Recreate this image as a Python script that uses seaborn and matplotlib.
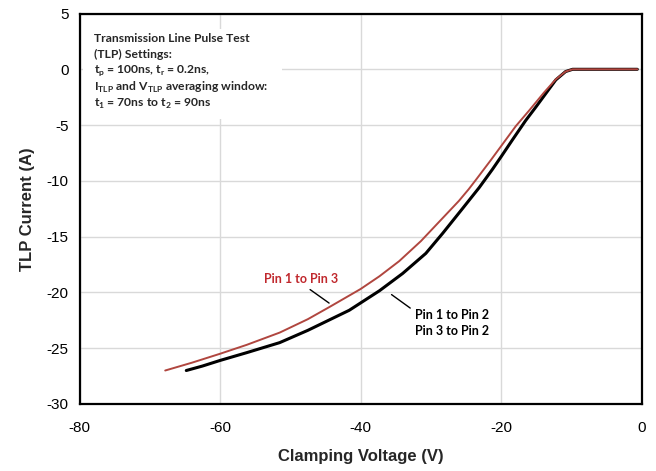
import numpy as np
import pandas as pd
import matplotlib
matplotlib.use("Agg")
import matplotlib.pyplot as plt
import seaborn as sns
from matplotlib.patches import Rectangle

# ---- data ----
red_v = [-67.8, -64.0, -60.0, -56.2, -51.5, -47.5, -44.4, -40.0, -37.3, -34.5, -31.4,
         -29.0, -26.0, -24.6, -23.5, -21.4, -20.0, -17.9, -16.0, -13.9, -12.2, -10.8,
         -9.8, -5.0, -0.6]
red_i = [-27.0, -26.3, -25.5, -24.7, -23.6, -22.4, -21.3, -19.7, -18.55, -17.2, -15.4,
         -13.8, -11.8, -10.75, -9.85, -8.1, -6.9, -5.1, -3.7, -2.1, -0.9, -0.2,
         0.0, 0.0, 0.0]
blk_v = [-64.8, -62.5, -60.0, -56.2, -51.5, -47.5, -41.6, -37.3, -34.0, -30.7, -28.3,
         -25.5, -23.1, -21.2, -20.0, -18.4, -16.5, -15.0, -13.6, -12.2, -10.8,
         -9.8, -5.0, -0.6]
blk_i = [-27.0, -26.6, -26.1, -25.4, -24.5, -23.4, -21.6, -19.85, -18.3, -16.5, -14.7,
         -12.5, -10.6, -8.95, -7.85, -6.35, -4.6, -3.35, -2.15, -0.95, -0.2,
         0.0, 0.0, 0.0]
series_names = ["Pin 1 to Pin 3", "Pin 1 to Pin 2 / Pin 3 to Pin 2"]
x_ticks = [-80, -60, -40, -20, 0]
y_ticks = [-30, -25, -20, -15, -10, -5, 0, 5]

df = pd.concat([
    pd.DataFrame({"V": red_v, "I": red_i, "series": series_names[0]}),
    pd.DataFrame({"V": blk_v, "I": blk_i, "series": series_names[1]}),
])

sns.set_theme(style="white")
plt.rcParams["font.family"] = ["Liberation Sans", "DejaVu Sans"]
plt.rcParams["axes.unicode_minus"] = False
plt.rcParams["mathtext.fontset"] = "custom"
plt.rcParams["mathtext.rm"] = "Lato:bold"

RED_LINE = "#b0463f"
RED_TEXT = "#c0282d"

fig = plt.figure(figsize=(6.56, 4.71), dpi=100)
ax = fig.add_axes([0.1212, 0.1423, 0.8567, 0.829])

sns.lineplot(data=df, x="V", y="I", hue="series", size="series",
             palette={series_names[0]: RED_LINE, series_names[1]: "black"},
             sizes={series_names[0]: 1.4, series_names[1]: 2.2},
             hue_order=[series_names[1], series_names[0]],
             sort=False, estimator=None, legend=False, ax=ax, zorder=3)

ax.set_xlim(-80, 0)
ax.set_ylim(-30, 5)
ax.set_xticks(x_ticks)
ax.set_yticks(y_ticks)
ax.grid(True, color="#d9d9d9", linewidth=1.0, zorder=0)
ax.set_axisbelow(True)
for s in ax.spines.values():
    s.set_color("black")
    s.set_linewidth(1.6)
ax.tick_params(length=0, labelsize=11, colors="black")
ax.tick_params(axis="x", pad=12)
ax.tick_params(axis="y", pad=8)
ax.set_xlabel("Clamping Voltage (V)", fontsize=12, fontweight="bold", labelpad=10)
ax.set_ylabel("TLP Current (A)", fontsize=12, fontweight="bold", labelpad=8)

# settings box
ax.add_patch(Rectangle((-79.5, -4.5), 28.3, 8.1, facecolor="white", edgecolor="none", zorder=1))
box_lines = [
    "Transmission Line Pulse Test",
    "(TLP) Settings:",
    r"t$_\mathregular{p}$ = 100ns, t$_\mathregular{r}$ = 0.2ns,",
    r"I$_\mathregular{TLP}$ and V$_\mathregular{TLP}$ averaging window:",
    r"t$_\mathregular{1}$ = 70ns to t$_\mathregular{2}$ = 90ns",
]
for k, line in enumerate(box_lines):
    ax.text(-78.0, 2.8 - 1.48 * k, line, fontsize=8.7, fontweight="bold",
            family="Lato", va="center", ha="left", zorder=4)

# labels with leader lines
ax.text(-48.4, -18.8, "Pin 1 to Pin 3", color=RED_TEXT, fontsize=9, fontweight="bold",
        family="Lato", ha="center", va="center", zorder=4)
ax.annotate("", xy=(-44.15, -21.1), xytext=(-47.5, -19.6),
            arrowprops=dict(arrowstyle="-", color="black", lw=1.0), zorder=4)
ax.text(-32.3, -22.0, "Pin 1 to Pin 2", color="black", fontsize=9, fontweight="bold",
        family="Lato", ha="left", va="center", zorder=4)
ax.text(-32.3, -23.45, "Pin 3 to Pin 2", color="black", fontsize=9, fontweight="bold",
        family="Lato", ha="left", va="center", zorder=4)
ax.annotate("", xy=(-32.6, -21.55), xytext=(-35.9, -20.05),
            arrowprops=dict(arrowstyle="-", color="black", lw=1.0), zorder=4)

fig.savefig("out.png", dpi=100)
